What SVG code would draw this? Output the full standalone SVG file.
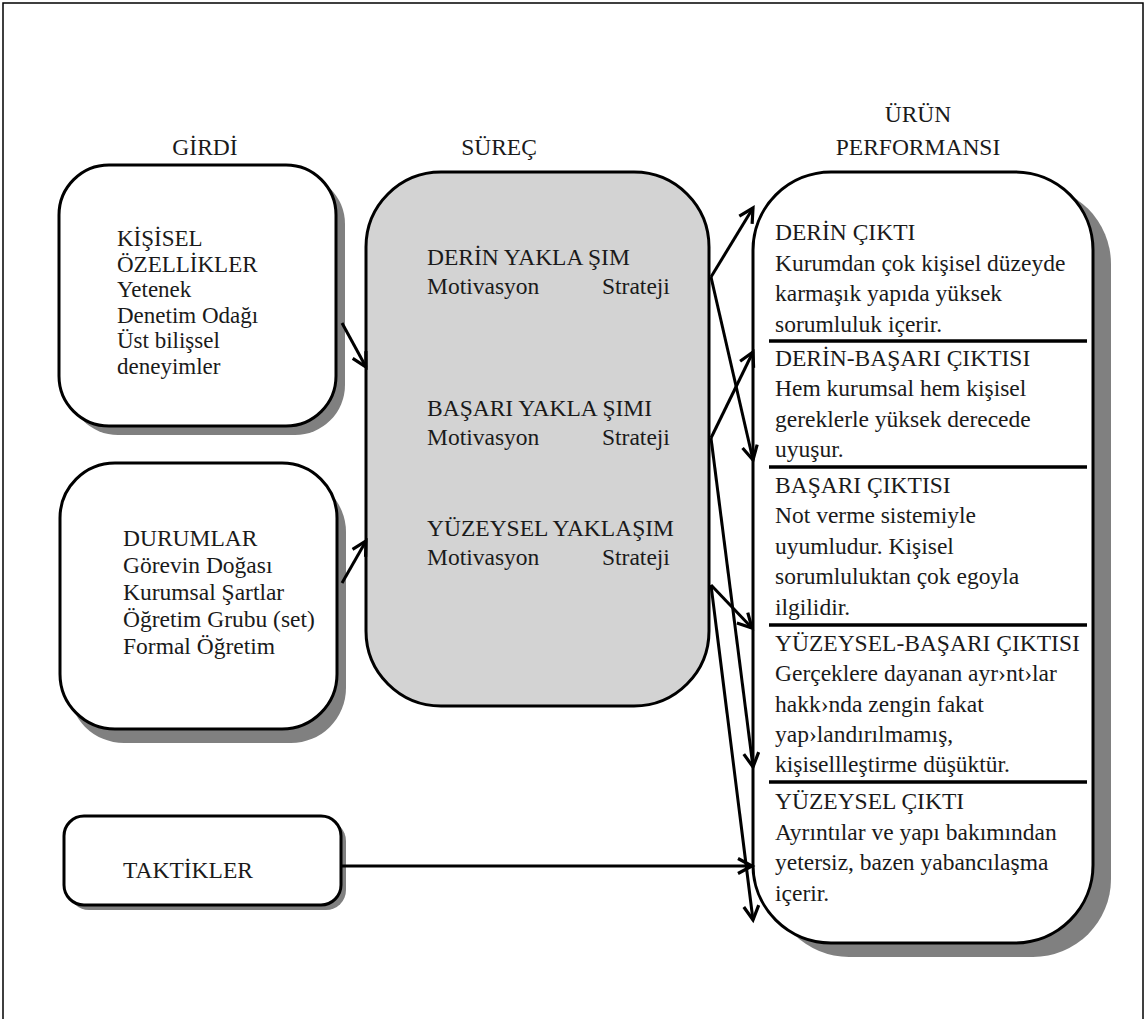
<svg xmlns="http://www.w3.org/2000/svg" width="1147" height="1019" viewBox="0 0 1147 1019">
<defs>
<style>
.t{font-family:"Liberation Serif","Times New Roman",serif;font-size:23.5px;fill:#1a1a1a}
.s{font-size:23px}
.box{fill:#fff;stroke:#000;stroke-width:3}
.sh{fill:#808080}
.ln{stroke:#000;stroke-width:3;fill:none}
.dv{stroke:#000;stroke-width:3.5}
</style>
<marker id="ah" markerWidth="20" markerHeight="20" refX="16" refY="9" orient="auto" markerUnits="userSpaceOnUse">
<path d="M2,1.5 L16,9 L2,16.5" fill="none" stroke="#000" stroke-width="3.2"/>
</marker>
</defs>
<rect width="1147" height="1019" fill="#fff"/>
<rect x="3" y="3" width="1140" height="1030" fill="none" stroke="#000" stroke-width="1.5"/>

<g id="headers">
<text class="t" x="205" y="155" text-anchor="middle">GİRDİ</text>
<text class="t" x="499" y="155" text-anchor="middle">SÜREÇ</text>
<text class="t" x="918" y="122" text-anchor="middle">ÜRÜN</text>
<text class="t" x="918" y="155" text-anchor="middle">PERFORMANSI</text>
</g>

<g id="kisisel">
<rect class="sh" x="68" y="174" width="277" height="261" rx="50"/>
<rect class="box" x="59" y="165" width="277" height="261" rx="50"/>
<text class="t s" x="117" y="246">KİŞİSEL</text>
<text class="t s" x="117" y="271.5">ÖZELLİKLER</text>
<text class="t s" x="117" y="297">Yetenek</text>
<text class="t s" x="117" y="322.5">Denetim Odağı</text>
<text class="t s" x="117" y="348">Üst bilişsel</text>
<text class="t s" x="117" y="373.5">deneyimler</text>
</g>

<g id="durumlar">
<rect class="sh" x="69" y="477" width="277" height="266" rx="55"/>
<rect class="box" x="60" y="463" width="277" height="266" rx="55"/>
<text class="t" x="123" y="546">DURUMLAR</text>
<text class="t" x="123" y="573">Görevin Doğası</text>
<text class="t" x="123" y="600">Kurumsal Şartlar</text>
<text class="t" x="123" y="627">Öğretim Grubu (set)</text>
<text class="t" x="123" y="654">Formal Öğretim</text>
</g>

<g id="taktikler">
<rect class="sh" x="69" y="821" width="277" height="89" rx="20"/>
<rect class="box" x="64" y="816" width="277" height="89" rx="20"/>
<text class="t" x="123" y="878">TAKTİKLER</text>
</g>

<g id="surec">
<rect x="366" y="172" width="343" height="534" rx="75" fill="#d3d3d3" stroke="#000" stroke-width="3"/>
<text class="t" x="427" y="265">DERİN YAKLA ŞIM</text>
<text class="t" x="427" y="294">Motivasyon</text>
<text class="t" x="602" y="294">Strateji</text>
<text class="t" x="427" y="416">BAŞARI YAKLA ŞIMI</text>
<text class="t" x="427" y="445">Motivasyon</text>
<text class="t" x="602" y="445">Strateji</text>
<text class="t" x="427" y="536">YÜZEYSEL YAKLAŞIM</text>
<text class="t" x="427" y="565">Motivasyon</text>
<text class="t" x="602" y="565">Strateji</text>
</g>

<g id="urun">
<rect class="sh" x="771" y="186" width="340" height="771" rx="78"/>
<rect class="box" x="753" y="172" width="340" height="771" rx="78"/>
<line class="dv" x1="769" y1="341" x2="1087" y2="341"/>
<line class="dv" x1="769" y1="467" x2="1087" y2="467"/>
<line class="dv" x1="769" y1="625" x2="1087" y2="625"/>
<line class="dv" x1="769" y1="782" x2="1087" y2="782"/>
<text class="t" x="775" y="240">DERİN ÇIKTI</text>
<text class="t" x="775" y="271">Kurumdan çok kişisel düzeyde</text>
<text class="t" x="775" y="301">karmaşık yapıda yüksek</text>
<text class="t" x="775" y="332">sorumluluk içerir.</text>
<text class="t" x="775" y="366">DERİN-BAŞARI ÇIKTISI</text>
<text class="t" x="775" y="396">Hem kurumsal hem kişisel</text>
<text class="t" x="775" y="427">gereklerle yüksek derecede</text>
<text class="t" x="775" y="457">uyuşur.</text>
<text class="t" x="775" y="493">BAŞARI ÇIKTISI</text>
<text class="t" x="775" y="523">Not verme sistemiyle</text>
<text class="t" x="775" y="554">uyumludur. Kişisel</text>
<text class="t" x="775" y="584">sorumluluktan çok egoyla</text>
<text class="t" x="775" y="615">ilgilidir.</text>
<text class="t" x="775" y="651">YÜZEYSEL-BAŞARI ÇIKTISI</text>
<text class="t" x="775" y="681">Gerçeklere dayanan ayr›nt›lar</text>
<text class="t" x="775" y="712">hakk›nda zengin fakat</text>
<text class="t" x="775" y="742">yap›landırılmamış,</text>
<text class="t" x="775" y="772">kişisellleştirme düşüktür.</text>
<text class="t" x="775" y="809">YÜZEYSEL ÇIKTI</text>
<text class="t" x="775" y="840">Ayrıntılar ve yapı bakımından</text>
<text class="t" x="775" y="870">yetersiz, bazen yabancılaşma</text>
<text class="t" x="775" y="901">içerir.</text>
</g>

<g id="connectors">
<line class="ln" x1="342" y1="323" x2="366" y2="367" marker-end="url(#ah)"/>
<line class="ln" x1="342" y1="583" x2="366" y2="541" marker-end="url(#ah)"/>
<line class="ln" x1="341" y1="866" x2="752" y2="866" marker-end="url(#ah)"/>
<line class="ln" x1="711" y1="277" x2="753" y2="208" marker-end="url(#ah)"/>
<line class="ln" x1="711" y1="277" x2="753" y2="460" marker-end="url(#ah)"/>
<line class="ln" x1="711" y1="438" x2="753" y2="352" marker-end="url(#ah)"/>
<line class="ln" x1="711" y1="438" x2="753" y2="767" marker-end="url(#ah)"/>
<line class="ln" x1="711" y1="585" x2="752" y2="628" marker-end="url(#ah)"/>
<line class="ln" x1="711" y1="585" x2="753" y2="920" marker-end="url(#ah)"/>
</g>
</svg>
